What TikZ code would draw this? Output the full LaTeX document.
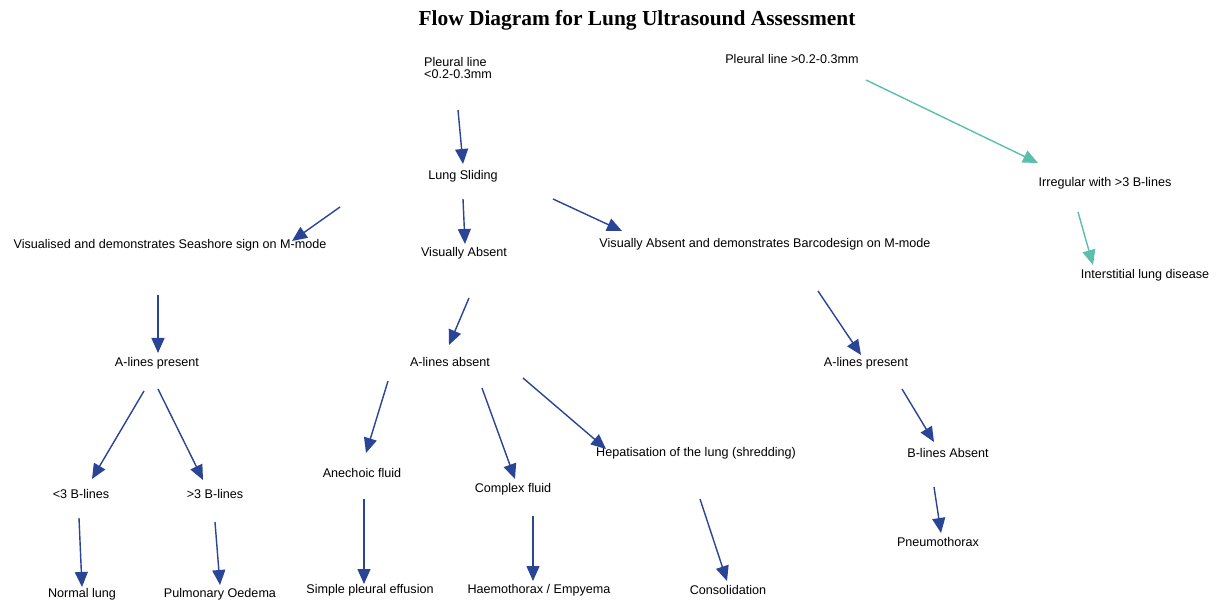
\documentclass[tikz,border=0pt]{standalone}
\usepackage{fontspec}
\setmainfont{Liberation Sans}
\newfontfamily\titlefont{Liberation Serif}
\usetikzlibrary{arrows.meta}
\definecolor{arrblue}{RGB}{42,68,150}
\definecolor{arrteal}{RGB}{92,190,172}
\tikzset{
  lbl/.style={inner sep=0pt, font=\fontsize{12.6}{12.5}\selectfont, text=black},
  arr/.style={draw=arrblue, line width=1.4pt, -{Triangle[length=15pt,width=13pt]}, arrblue},
  tarr/.style={draw=arrteal, line width=1.4pt, -{Triangle[length=15pt,width=13pt]}, arrteal}
}
\begin{document}
\begin{tikzpicture}[x=1pt,y=-1pt]
\useasboundingbox (0,0) rectangle (1218,601);
\fill[white] (0,0) rectangle (1218,601);
% title
\node[inner sep=0pt, font=\titlefont\bfseries\fontsize{21.4}{24}\selectfont] (title) at (637,20) {Flow Diagram for Lung Ultrasound Assessment};
% nodes
\node[lbl, anchor=west, align=left] (pl1) at (424,68) {Pleural line\\<0.2-0.3mm};
\node[lbl] (pl2) at (792,59) {Pleural line >0.2-0.3mm};
\node[lbl] (ls) at (463,176) {Lung Sliding};
\node[lbl] (vis) at (170,245) {Visualised and demonstrates Seashore sign on M-mode};
\node[lbl] (va) at (464,253) {Visually Absent};
\node[lbl] (vab) at (765,244) {Visually Absent and demonstrates Barcodesign on M-mode};
\node[lbl] (irr) at (1105,183) {Irregular with >3 B-lines};
\node[lbl] (ild) at (1145,275) {Interstitial lung disease};
\node[lbl] (alp1) at (157,363) {A-lines present};
\node[lbl] (ala) at (450,362) {A-lines absent};
\node[lbl] (alp2) at (866,363) {A-lines present};
\node[lbl] (lt3) at (81,494) {<3 B-lines};
\node[lbl] (gt3) at (215,494) {>3 B-lines};
\node[lbl] (an) at (362,473) {Anechoic fluid};
\node[lbl] (cf) at (513,489) {Complex fluid};
\node[lbl] (hep) at (696,453) {Hepatisation of the lung (shredding)};
\node[lbl] (bla) at (948,453) {B-lines Absent};
\node[lbl] (nl) at (82,594) {Normal lung};
\node[lbl] (po) at (220,594) {Pulmonary Oedema};
\node[lbl] (spe) at (370,590) {Simple pleural effusion};
\node[lbl] (hae) at (539,590) {Haemothorax / Empyema};
\node[lbl] (con) at (728,590) {Consolidation};
\node[lbl] (pn) at (938,542) {Pneumothorax};
% connector end points (arrows float between the texts)
\coordinate (pl1-ls-s) at (458,110);   \coordinate (pl1-ls-e) at (463,164);
\coordinate (ls-vis-s) at (340,207);   \coordinate (ls-vis-e) at (292,241);
\coordinate (ls-va-s) at (463,199);    \coordinate (ls-va-e) at (465,244);
\coordinate (ls-vab-s) at (553,199);   \coordinate (ls-vab-e) at (622,231);
\coordinate (pl2-irr-s) at (866,80);   \coordinate (pl2-irr-e) at (1038,163);
\coordinate (irr-ild-s) at (1078,212); \coordinate (irr-ild-e) at (1093,265);
\coordinate (vis-alp1-s) at (158,295); \coordinate (vis-alp1-e) at (158,353);
\coordinate (va-ala-s) at (469,298);   \coordinate (va-ala-e) at (449,345);
\coordinate (vab-alp2-s) at (818,291); \coordinate (vab-alp2-e) at (861,355);
\coordinate (alp1-lt3-s) at (144,391); \coordinate (alp1-lt3-e) at (92,479);
\coordinate (alp1-gt3-s) at (158,389); \coordinate (alp1-gt3-e) at (203,480);
\coordinate (ala-an-s) at (388,381);   \coordinate (ala-an-e) at (366,453);
\coordinate (ala-cf-s) at (482,388);   \coordinate (ala-cf-e) at (515,479);
\coordinate (ala-hep-s) at (523,378);  \coordinate (ala-hep-e) at (606,449);
\coordinate (alp2-bla-s) at (902,389); \coordinate (alp2-bla-e) at (934,442);
\coordinate (lt3-nl-s) at (79,518);    \coordinate (lt3-nl-e) at (82,587);
\coordinate (gt3-po-s) at (215,522);   \coordinate (gt3-po-e) at (220,585);
\coordinate (an-spe-s) at (364,499);   \coordinate (an-spe-e) at (364,584);
\coordinate (cf-hae-s) at (533,516);   \coordinate (cf-hae-e) at (533,581);
\coordinate (hep-con-s) at (700,499);  \coordinate (hep-con-e) at (727,581);
\coordinate (bla-pn-s) at (934,487);   \coordinate (bla-pn-e) at (941,533);
% connectors
\draw[arr] (pl1-ls-s) -- (pl1-ls-e);
\draw[arr] (ls-vis-s) -- (ls-vis-e);
\draw[arr] (ls-va-s) -- (ls-va-e);
\draw[arr] (ls-vab-s) -- (ls-vab-e);
\draw[tarr] (pl2-irr-s) -- (pl2-irr-e);
\draw[tarr] (irr-ild-s) -- (irr-ild-e);
\draw[arr] (vis-alp1-s) -- (vis-alp1-e);
\draw[arr] (va-ala-s) -- (va-ala-e);
\draw[arr] (vab-alp2-s) -- (vab-alp2-e);
\draw[arr] (alp1-lt3-s) -- (alp1-lt3-e);
\draw[arr] (alp1-gt3-s) -- (alp1-gt3-e);
\draw[arr] (ala-an-s) -- (ala-an-e);
\draw[arr] (ala-cf-s) -- (ala-cf-e);
\draw[arr] (ala-hep-s) -- (ala-hep-e);
\draw[arr] (alp2-bla-s) -- (alp2-bla-e);
\draw[arr] (lt3-nl-s) -- (lt3-nl-e);
\draw[arr] (gt3-po-s) -- (gt3-po-e);
\draw[arr] (an-spe-s) -- (an-spe-e);
\draw[arr] (cf-hae-s) -- (cf-hae-e);
\draw[arr] (hep-con-s) -- (hep-con-e);
\draw[arr] (bla-pn-s) -- (bla-pn-e);
\end{tikzpicture}
\end{document}
